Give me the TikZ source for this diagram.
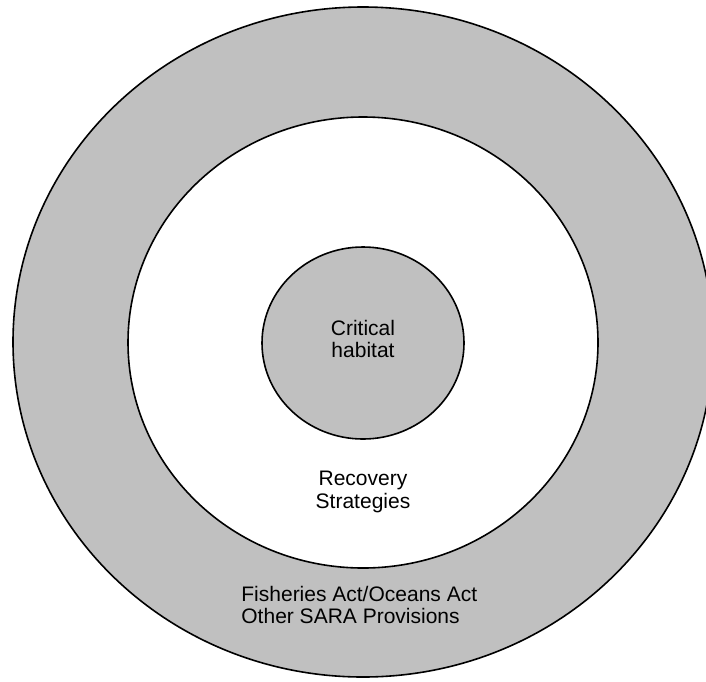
\documentclass[tikz,border=0pt]{standalone}
\usepackage{fontspec}
\setmainfont{Liberation Sans}
\definecolor{ringgray}{HTML}{C0C0C0}

\begin{document}
\begin{tikzpicture}[x=0.5pt,y=-0.5pt,
  label text/.style={font=\fontsize{10.5}{11.3}\selectfont,inner sep=0pt}]
  \useasboundingbox (0,0) rectangle (706,681);
  \draw[line width=0.8pt,fill=ringgray] (363,342) ellipse [x radius=350, y radius=335];
  \draw[line width=0.8pt,fill=white] (363,342.5) ellipse [x radius=235, y radius=225.5];
  \draw[line width=0.8pt,fill=ringgray] (363,343) ellipse [x radius=101, y radius=96];
  \node[label text,align=center] (C) at (363,339) {Critical\\habitat};
  \node[label text,align=center] (R) at (363,492) {Recovery\\Strategies};
  \node[label text,align=left,anchor=west] (F) at (241,605) {Fisheries Act/Oceans Act\\Other SARA Provisions};
\end{tikzpicture}
\end{document}
